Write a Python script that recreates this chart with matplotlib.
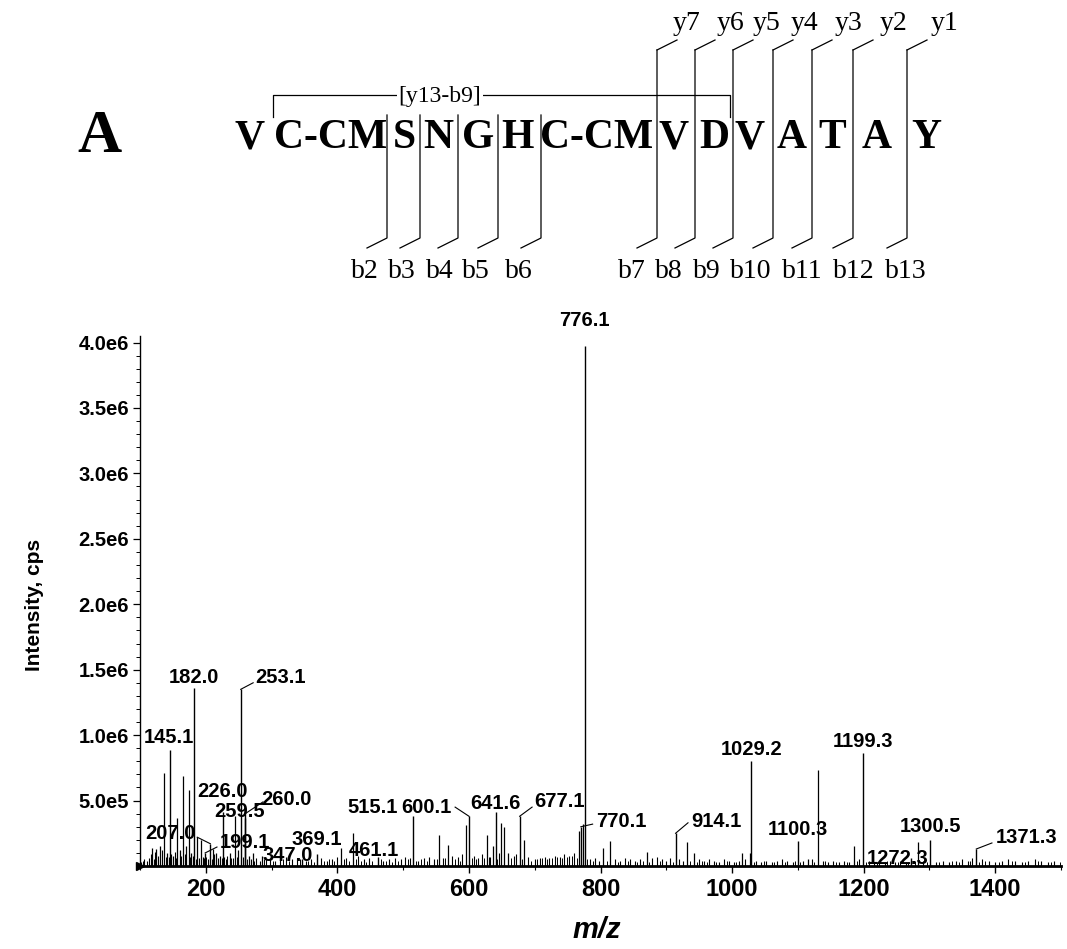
import matplotlib
matplotlib.use("Agg")
import matplotlib.pyplot as plt
from matplotlib.ticker import MultipleLocator, FixedLocator

# ==========================
# Spectrum data (m/z, intensity in cps)
# ==========================

labeled_mz = [145.1, 182.0, 199.1, 207.0, 226.0, 253.1, 259.5, 260.0, 347.0, 369.1,
              461.1, 515.1, 600.1, 641.6, 677.1, 770.1, 776.1, 914.1, 1029.2,
              1100.3, 1199.3, 1272.3, 1300.5, 1371.3]
labeled_int = [0.89e6, 1.36e6, 0.10e6, 0.17e6, 0.41e6, 1.35e6, 0.37e6, 0.40e6, 0.05e6, 0.09e6,
               0.07e6, 0.38e6, 0.38e6, 0.41e6, 0.38e6, 0.30e6, 3.97e6, 0.25e6, 0.80e6,
               0.19e6, 0.86e6, 0.06e6, 0.20e6, 0.13e6]

minor_mz = [119, 125, 131, 137, 141, 150, 157, 161, 165, 170, 174, 178, 187, 193,
            211, 216, 221, 237, 244, 249, 265, 272, 286, 406, 424, 555, 568, 596,
            627, 637, 649, 654, 660, 684, 768, 773, 804, 815, 870, 931, 942, 1015,
            1027, 1115, 1131, 1186, 1283]
minor_int = [0.14e6, 0.13e6, 0.15e6, 0.71e6, 0.10e6, 0.08e6, 0.37e6, 0.12e6, 0.69e6,
             0.15e6, 0.58e6, 0.10e6, 0.22e6, 0.20e6, 0.13e6, 0.10e6, 0.08e6, 0.10e6,
             0.38e6, 0.12e6, 0.08e6, 0.10e6, 0.08e6, 0.14e6, 0.25e6, 0.24e6, 0.16e6,
             0.31e6, 0.24e6, 0.15e6, 0.33e6, 0.30e6, 0.10e6, 0.20e6, 0.27e6, 0.32e6,
             0.14e6, 0.19e6, 0.11e6, 0.18e6, 0.10e6, 0.10e6, 0.10e6, 0.05e6, 0.73e6,
             0.155e6, 0.18e6]

grass_mz = [102, 106, 110, 113, 116, 123, 128, 134, 144, 147, 153, 168, 181, 190,
            196, 203, 213, 219, 228, 233, 241, 256, 268, 277, 283, 292, 298, 305,
            313, 322, 331, 338, 352, 360, 375, 384, 392, 399, 413, 431, 440, 448,
            470, 478, 487, 496, 503, 510, 523, 531, 540, 547, 560, 575, 583, 590,
            607, 614, 620, 632, 645, 668, 672, 690, 700, 708, 715, 722, 731, 738,
            745, 752, 760, 784, 792, 798, 822, 830, 838, 845, 852, 860, 878, 886,
            893, 900, 906, 920, 926, 950, 958, 965, 972, 980, 988, 996, 1003, 1010,
            1020, 1037, 1044, 1052, 1060, 1068, 1076, 1084, 1092, 1108, 1121, 1138,
            1146, 1154, 1162, 1170, 1178, 1193, 1208, 1216, 1224, 1232, 1240, 1248,
            1256, 1264, 1290, 1310, 1320, 1330, 1340, 1350, 1358, 1365, 1380, 1390,
            1400, 1410, 1420, 1430, 1440, 1450, 1460, 1470, 1480, 1490]
grass_int = [0.03e6, 0.05e6, 0.04e6, 0.06e6, 0.09e6, 0.11e6, 0.08e6, 0.12e6, 0.07e6,
             0.09e6, 0.11e6, 0.09e6, 0.08e6, 0.06e6, 0.07e6, 0.05e6, 0.09e6, 0.06e6,
             0.07e6, 0.08e6, 0.06e6, 0.07e6, 0.05e6, 0.06e6, 0.04e6, 0.05e6, 0.06e6,
             0.04e6, 0.05e6, 0.07e6, 0.05e6, 0.06e6, 0.04e6, 0.05e6, 0.06e6, 0.04e6,
             0.05e6, 0.07e6, 0.06e6, 0.08e6, 0.05e6, 0.06e6, 0.04e6, 0.05e6, 0.06e6,
             0.05e6, 0.07e6, 0.06e6, 0.04e6, 0.06e6, 0.07e6, 0.05e6, 0.06e6, 0.08e6,
             0.07e6, 0.09e6, 0.08e6, 0.06e6, 0.09e6, 0.07e6, 0.10e6, 0.08e6, 0.09e6,
             0.07e6, 0.05e6, 0.06e6, 0.07e6, 0.06e6, 0.08e6, 0.07e6, 0.09e6, 0.08e6,
             0.10e6, 0.05e6, 0.06e6, 0.04e6, 0.05e6, 0.04e6, 0.06e6, 0.05e6, 0.04e6,
             0.05e6, 0.06e6, 0.07e6, 0.05e6, 0.04e6, 0.06e6, 0.05e6, 0.04e6, 0.05e6,
             0.04e6, 0.05e6, 0.04e6, 0.03e6, 0.05e6, 0.04e6, 0.03e6, 0.04e6, 0.05e6,
             0.04e6, 0.03e6, 0.04e6, 0.03e6, 0.04e6, 0.05e6, 0.04e6, 0.03e6, 0.04e6,
             0.05e6, 0.04e6, 0.03e6, 0.04e6, 0.03e6, 0.04e6, 0.03e6, 0.05e6, 0.04e6,
             0.03e6, 0.04e6, 0.03e6, 0.04e6, 0.03e6, 0.04e6, 0.03e6, 0.04e6, 0.03e6,
             0.04e6, 0.03e6, 0.04e6, 0.05e6, 0.04e6, 0.06e6, 0.05e6, 0.04e6, 0.03e6,
             0.04e6, 0.05e6, 0.04e6, 0.03e6, 0.04e6, 0.05e6, 0.04e6, 0.03e6, 0.04e6]

# extra low-level noise between the grass peaks
noise_mz = [104, 118, 121, 139, 155, 163, 176, 185, 198, 201, 209, 224, 231, 239,
            247, 262, 274, 289, 302, 318, 327, 343, 356, 364, 380, 388, 395, 410,
            418, 428, 436, 444, 452, 466, 474, 483, 492, 507, 519, 527, 536, 551,
            564, 579, 587, 604, 611, 623, 630, 642, 664, 680, 694, 704, 711, 719,
            726, 734, 741, 749, 756, 764, 780, 788, 810, 826, 842, 856, 865, 874,
            890, 910, 936, 946, 954, 962, 976, 992, 1006, 1033, 1048, 1064, 1080,
            1096, 1104, 1125, 1142, 1158, 1174, 1190, 1204, 1220, 1236, 1252, 1268,
            1278, 1296, 1315, 1335, 1345, 1362, 1375, 1385, 1405, 1425, 1445, 1465,
            1485, 1498]
noise_int = [0.04e6, 0.06e6, 0.05e6, 0.07e6, 0.06e6, 0.08e6, 0.07e6, 0.05e6, 0.06e6,
             0.07e6, 0.05e6, 0.06e6, 0.05e6, 0.06e6, 0.07e6, 0.05e6, 0.04e6, 0.05e6,
             0.04e6, 0.05e6, 0.04e6, 0.05e6, 0.04e6, 0.03e6, 0.04e6, 0.05e6, 0.04e6,
             0.05e6, 0.04e6, 0.05e6, 0.04e6, 0.03e6, 0.04e6, 0.05e6, 0.04e6, 0.03e6,
             0.04e6, 0.05e6, 0.04e6, 0.05e6, 0.04e6, 0.05e6, 0.06e6, 0.05e6, 0.04e6,
             0.06e6, 0.05e6, 0.06e6, 0.07e6, 0.05e6, 0.06e6, 0.05e6, 0.04e6, 0.05e6,
             0.06e6, 0.05e6, 0.06e6, 0.07e6, 0.06e6, 0.07e6, 0.08e6, 0.06e6, 0.05e6,
             0.04e6, 0.04e6, 0.03e6, 0.04e6, 0.03e6, 0.04e6, 0.03e6, 0.04e6, 0.03e6,
             0.04e6, 0.03e6, 0.04e6, 0.03e6, 0.03e6, 0.04e6, 0.03e6, 0.03e6, 0.04e6,
             0.03e6, 0.03e6, 0.04e6, 0.03e6, 0.03e6, 0.04e6, 0.03e6, 0.03e6, 0.04e6,
             0.03e6, 0.03e6, 0.04e6, 0.03e6, 0.03e6, 0.04e6, 0.03e6, 0.03e6, 0.04e6,
             0.03e6, 0.04e6, 0.03e6, 0.04e6, 0.03e6, 0.04e6, 0.03e6, 0.04e6, 0.03e6,
             0.03e6]

# ==========================
# Peak label layout (text position, optional leader end)
# ==========================

label_pos = {
    "145.1": (144, 0.98e6), "182.0": (182, 1.44e6), "199.1": (260, 0.18e6),
    "207.0": (146, 0.25e6), "226.0": (225, 0.57e6), "253.1": (313, 1.44e6),
    "259.5": (251, 0.42e6), "260.0": (322, 0.51e6), "347.0": (325, 0.08e6),
    "369.1": (368, 0.20e6), "461.1": (456, 0.12e6), "515.1": (454, 0.45e6),
    "600.1": (536, 0.45e6), "641.6": (641, 0.48e6), "677.1": (738, 0.49e6),
    "770.1": (831, 0.34e6), "776.1": (775, 4.17e6), "914.1": (976, 0.34e6),
    "1029.2": (1029, 0.89e6), "1100.3": (1100, 0.28e6), "1199.3": (1199, 0.95e6),
    "1272.3": (1251, 0.06e6), "1300.5": (1301, 0.30e6), "1371.3": (1447, 0.22e6),
}

leader_end = {
    "253.1": (272, 1.40e6), "260.0": (287, 0.49e6), "207.0": (187, 0.22e6),
    "199.1": (217, 0.145e6), "600.1": (579, 0.45e6), "677.1": (696, 0.45e6),
    "770.1": (788, 0.32e6), "914.1": (933, 0.33e6), "1371.3": (1395, 0.176e6),
}

# ==========================
# Sequence annotation layout (pixels from top-left)
# ==========================

residues = ["V", "C-CM", "S", "N", "G", "H", "C-CM", "V", "D", "V", "A", "T", "A", "Y"]
residue_x = [250, 331, 404, 438, 478, 518, 597, 674, 714, 750, 792, 832, 877, 926]

cleave_x = [387, 420, 458, 498, 541, 657, 695, 733, 773, 812, 853, 907]
b_names = ["b2", "b3", "b4", "b5", "b6", "b7", "b8", "b9", "b10", "b11", "b12", "b13"]
b_label_x = [365, 402, 440, 476, 519, 632, 669, 707, 751, 802, 854, 906]
y_names = ["y7", "y6", "y5", "y4", "y3", "y2", "y1"]
y_label_x = [687, 731, 767, 804, 849, 894, 945]

W, H = 1067, 949

SANS = ["Liberation Sans", "DejaVu Sans"]
SERIF = ["Liberation Serif", "DejaVu Serif"]

fig = plt.figure(figsize=(W / 100, H / 100), dpi=100)

# ==========================
# Sequence annotation
# ==========================

ann = fig.add_axes([0, 0, 1, 1])
ann.set_xlim(0, W)
ann.set_ylim(H, 0)
ann.axis("off")

ann.text(99, 137, "A", family=SERIF, weight="bold", fontsize=44, ha="center", va="center")

for res, x in zip(residues, residue_x):
    ann.text(x, 138, res, family=SERIF, weight="bold", fontsize=30, ha="center", va="center")

lc = dict(color="black", lw=0.9)
n_b_only = len(cleave_x) - len(y_names)
for i, x in enumerate(cleave_x):
    top = 115 if i < n_b_only else 50
    ann.plot([x, x, x - 20], [top, 238, 248], **lc)
    ann.text(b_label_x[i], 272, b_names[i], family=SERIF, fontsize=20, ha="center", va="center")
    if i >= n_b_only:
        j = i - n_b_only
        ann.plot([x, x + 20], [50, 40], **lc)
        ann.text(y_label_x[j], 23, y_names[j], family=SERIF, fontsize=20, ha="center", va="center")

ann.plot([273, 273, 730, 730], [117, 95, 95, 117], **lc)
ann.text(440, 96, "[y13-b9]", family=SERIF, fontsize=17, ha="center", va="center",
         bbox=dict(facecolor="white", edgecolor="none", pad=1))

# ==========================
# Spectrum
# ==========================

ax = fig.add_axes([140 / W, 1 - 866 / H, 921 / W, 530 / H])

ax.vlines(noise_mz, 0, noise_int, color="black", lw=0.7)
ax.vlines(grass_mz, 0, grass_int, color="black", lw=0.8)
ax.vlines(minor_mz, 0, minor_int, color="black", lw=0.9)
ax.vlines(labeled_mz, 0, labeled_int, color="black", lw=1.0)

ax.set_xlim(100, 1500)
ax.set_ylim(0, 4.05e6)

for spine in ["top", "right"]:
    ax.spines[spine].set_visible(False)
ax.spines["left"].set_linewidth(1.0)
ax.spines["bottom"].set_linewidth(2.0)

ax.xaxis.set_major_locator(MultipleLocator(200))
ax.xaxis.set_minor_locator(MultipleLocator(100))
ax.yaxis.set_major_locator(FixedLocator([0.5e6, 1.0e6, 1.5e6, 2.0e6, 2.5e6, 3.0e6, 3.5e6, 4.0e6]))
ax.yaxis.set_minor_locator(MultipleLocator(0.1e6))
ax.set_yticklabels(["5.0e5", "1.0e6", "1.5e6", "2.0e6", "2.5e6", "3.0e6", "3.5e6", "4.0e6"])

ax.tick_params(axis="y", which="major", length=5, width=0.9, pad=3)
ax.tick_params(axis="y", which="minor", length=3, width=0.7)
ax.tick_params(axis="x", which="major", length=5, width=1.0, pad=4)
ax.tick_params(axis="x", which="minor", length=3, width=0.8)

for lab in ax.get_yticklabels():
    lab.set_family(SANS)
    lab.set_weight("bold")
    lab.set_fontsize(14.5)
for lab in ax.get_xticklabels():
    lab.set_family(SANS)
    lab.set_weight("bold")
    lab.set_fontsize(17)

ax.plot([0], [0], marker=">", ms=6, color="black", transform=ax.transAxes, clip_on=False)

fig.text(35 / W, 1 - 605 / H, "Intensity, cps", family=SANS, weight="bold", fontsize=15,
         rotation=90, ha="center", va="center")
fig.text(597 / W, 1 - 930 / H, "m/z", family=SANS, weight="bold", style="italic",
         fontsize=21, ha="center", va="center")

# ==========================
# Peak labels
# ==========================

peak_lookup = dict(zip([f"{m:.1f}" for m in labeled_mz], zip(labeled_mz, labeled_int)))

for name, (tx, ty) in label_pos.items():
    ax.text(tx, ty, name, family=SANS, weight="bold", fontsize=14.5, ha="center",
            va="center", clip_on=False)
    if name in leader_end:
        pm, pi = peak_lookup[name]
        ex, ey = leader_end[name]
        if name in ("207.0", "199.1"):
            ax.plot([ex, pm], [ey, pi], color="black", lw=0.8)
        else:
            ax.plot([pm, ex], [pi, ey], color="black", lw=0.8)

fig.savefig("out.png", dpi=100)
